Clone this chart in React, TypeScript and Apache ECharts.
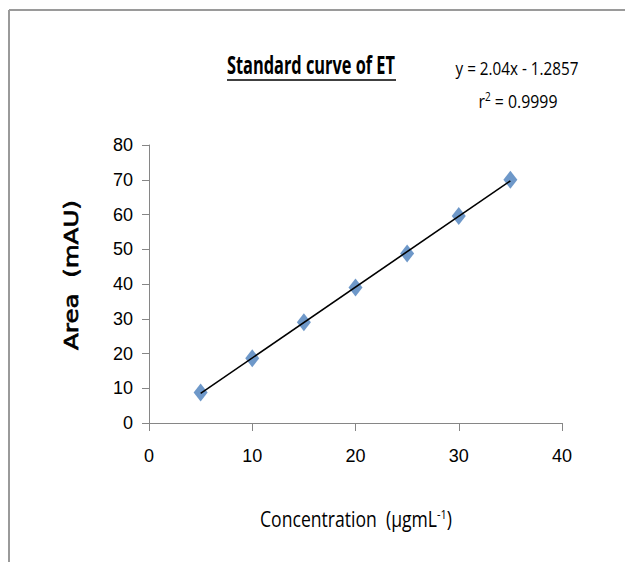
import React, { useEffect, useRef } from "react";
import * as echarts from "echarts";

const concentrations = [5, 10, 15, 20, 25, 30, 35];
const areas = [8.8, 18.6, 29.0, 39.0, 48.8, 59.6, 70.0];
const xTicks = { min: 0, max: 40, interval: 10 };
const yTicks = { min: 0, max: 80, interval: 10 };
const titleText = "Standard curve of ET";
const equationText = "y = 2.04x - 1.2857";
const rSquaredValue = "0.9999";
const yAxisTitle = "Area  (mAU)";
const xAxisTitleMain = "Concentration  (μgmL";
const xAxisTitleSup = "-1";

function fitLine(xs: number[], ys: number[]) {
  const n = xs.length;
  const mx = xs.reduce((a, b) => a + b, 0) / n;
  const my = ys.reduce((a, b) => a + b, 0) / n;
  let sxy = 0;
  let sxx = 0;
  for (let i = 0; i < n; i++) {
    sxy += (xs[i] - mx) * (ys[i] - my);
    sxx += (xs[i] - mx) * (xs[i] - mx);
  }
  const slope = sxy / sxx;
  return { slope, intercept: my - slope * mx };
}

let measureCtx: CanvasRenderingContext2D | null = null;
function textWidth(text: string, font: string) {
  if (!measureCtx) measureCtx = document.createElement("canvas").getContext("2d");
  if (!measureCtx) return text.length * 10;
  measureCtx.font = font;
  return measureCtx.measureText(text).width;
}

export default function App() {
  const ref = useRef<HTMLDivElement>(null);
  useEffect(() => {
    if (!ref.current) return;
    const chart = echarts.init(ref.current, null, { renderer: "svg" });
    const { slope, intercept } = fitLine(concentrations, areas);
    const x0 = concentrations[0];
    const x1 = concentrations[concentrations.length - 1];
    const trend = [
      [x0, slope * x0 + intercept],
      [x1, slope * x1 + intercept],
    ];
    const axisColor = "#868686";
    const tickFont = "Liberation Sans";

    const titleFont = "bold 25px 'Open Sans'";
    const titleScale = 168 / textWidth(titleText, titleFont);
    const eqFont = "19px 'Open Sans'";
    const eqScale = 123 / textWidth(equationText, eqFont);
    const r2Scale = 79 / (textWidth("r = " + rSquaredValue, eqFont) + textWidth("2", "12px 'Open Sans'"));
    const yTitleFont = "20px 'DejaVu Sans'";
    const yTitleScale = 150 / textWidth(yAxisTitle, yTitleFont);
    const xTitleW =
      textWidth(xAxisTitleMain, "21px 'Open Sans'") +
      textWidth(xAxisTitleSup, "13px 'Open Sans'") +
      textWidth(")", "21px 'Open Sans'");
    const xTitleScale = 192 / xTitleW;

    chart.setOption({
      animation: false,
      backgroundColor: "#ffffff",
      grid: { left: 149, right: 63, top: 145, bottom: 139 },
      xAxis: {
        type: "value",
        ...xTicks,
        axisLine: { show: true, onZero: false, lineStyle: { color: axisColor, width: 1 } },
        axisTick: { show: true, inside: false, length: 8, lineStyle: { color: axisColor } },
        splitLine: { show: false },
        axisLabel: { color: "#000", fontFamily: tickFont, fontSize: 18, margin: 24 },
      },
      yAxis: {
        type: "value",
        ...yTicks,
        axisLine: { show: true, onZero: false, lineStyle: { color: axisColor, width: 1 } },
        axisTick: { show: true, inside: false, length: 7, lineStyle: { color: axisColor } },
        splitLine: { show: false },
        axisLabel: { color: "#000", fontFamily: tickFont, fontSize: 18, margin: 16 },
      },
      series: [
        {
          type: "line",
          data: trend,
          showSymbol: false,
          symbol: "none",
          lineStyle: { color: "#000", width: 1.6 },
          z: 3,
        },
        {
          type: "scatter",
          data: concentrations.map((c, i) => [c, areas[i]]),
          symbol: "diamond",
          symbolSize: [14, 18],
          itemStyle: { color: "#4A7EBB" },
          z: 2,
        },
      ],
      graphic: [
        {
          type: "line",
          shape: { x1: 9, y1: 10, x2: 625, y2: 10 },
          style: { stroke: "#9a9a9a", lineWidth: 2 },
        },
        {
          type: "line",
          shape: { x1: 9, y1: 10, x2: 9, y2: 562 },
          style: { stroke: "#9a9a9a", lineWidth: 2 },
        },
        {
          type: "text",
          x: 311,
          y: 64,
          scaleX: titleScale,
          style: {
            text: titleText,
            font: titleFont,
            fill: "#000",
            align: "center",
            verticalAlign: "middle",
          },
        },
        {
          type: "line",
          shape: { x1: 227, y1: 80, x2: 396, y2: 80 },
          style: { stroke: "#000", lineWidth: 1.5 },
        },
        {
          type: "text",
          x: 517,
          y: 68,
          scaleX: eqScale,
          style: {
            text: equationText,
            font: eqFont,
            fill: "#000",
            align: "center",
            verticalAlign: "middle",
          },
        },
        {
          type: "text",
          x: 518,
          y: 100,
          scaleX: r2Scale,
          style: {
            text: "{a|r}{s|2}{a| = " + rSquaredValue + "}",
            fill: "#000",
            align: "center",
            verticalAlign: "middle",
            rich: {
              a: { fontFamily: "Open Sans", fontSize: 19, fill: "#000" },
              s: { fontFamily: "Open Sans", fontSize: 12, fill: "#000", verticalAlign: "top", padding: [0, 0, 8, 0] },
            },
          },
        },
        {
          type: "text",
          x: 71,
          y: 275,
          rotation: Math.PI / 2,
          scaleX: yTitleScale,
          style: {
            text: yAxisTitle,
            font: yTitleFont,
            fill: "#000",
            stroke: "#000",
            lineWidth: 0.7,
            align: "center",
            verticalAlign: "middle",
          },
        },
        {
          type: "text",
          x: 356,
          y: 519,
          scaleX: xTitleScale,
          style: {
            text: "{a|" + xAxisTitleMain + "}{s|" + xAxisTitleSup + "}{a|)}",
            fill: "#000",
            align: "center",
            verticalAlign: "middle",
            rich: {
              a: { fontFamily: "Open Sans", fontSize: 21, fill: "#000" },
              s: { fontFamily: "Open Sans", fontSize: 13, fill: "#000", verticalAlign: "top", padding: [0, 0, 10, 0] },
            },
          },
        },
      ],
    });
    return () => chart.dispose();
  }, []);
  return (
    <div
      ref={ref}
      style={{ position: "absolute", left: 0, top: 0, width: 625, height: 562 }}
    />
  );
}
